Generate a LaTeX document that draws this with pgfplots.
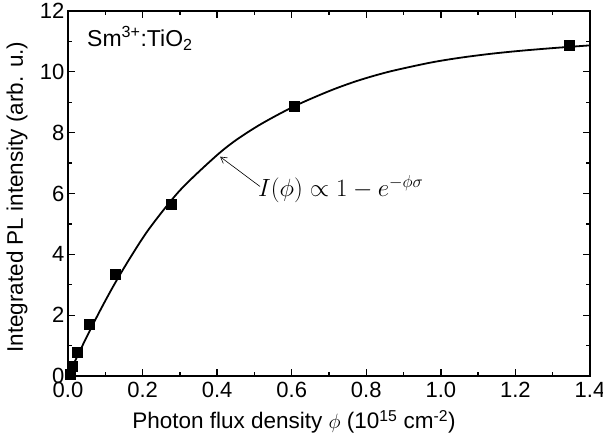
\documentclass[border=0pt]{standalone}
\usepackage{fontspec}
\setmainfont{Liberation Sans}
\usepackage{pgfplots}
\pgfplotsset{compat=1.18}
\usetikzlibrary{arrows.meta}

\begin{document}
\begin{tikzpicture}[font=\fontsize{22}{26}\selectfont]
\begin{axis}[
  at={(0,0)}, anchor=south west,
  scale only axis, width=522pt, height=365pt,
  xmin=0, xmax=1.4, ymin=0, ymax=12,
  xtick={0,0.2,...,1.4}, ytick={0,2,...,12},
  minor x tick num=1, minor y tick num=1,
  tick align=inside, major tick length=7pt, minor tick length=4pt,
  every tick/.style={black, line width=1.3pt},
  axis line style={line width=1.3pt},
  tick label style={font=\fontsize{22}{26}\selectfont},
  label style={font=\fontsize{22.5}{26}\selectfont},
  xticklabel style={yshift=-3pt, /pgf/number format/.cd, fixed, zerofill,
    precision=1, assume math mode=true},
  yticklabel style={/pgf/number format/assume math mode=true},
  xlabel={Photon flux density $\phi$ (10\textsuperscript{15} cm\textsuperscript{-2})},
  ylabel={Integrated PL intensity (arb. u.)},
  xlabel style={at={(axis description cs:0.433,-0.126)}, anchor=center},
  ylabel style={at={(axis description cs:-0.0977,0.49)}, anchor=center},
]
% fitted curve
\addplot[black, line width=1.8pt, smooth] coordinates {
  (0,0) (0.02,0.52) (0.05,1.28) (0.086,2.15) (0.126,3.05) (0.171,3.97)
  (0.22,4.88) (0.30,6.10) (0.394,7.20) (0.45,7.75) (0.52,8.30)
  (0.609,8.88) (0.703,9.38) (0.78,9.72) (0.863,10.01) (0.971,10.30)
  (1.05,10.46) (1.132,10.59) (1.212,10.69) (1.30,10.78) (1.40,10.87)
};
% measured points
\addplot[only marks, mark=square*, mark size=5pt, black] coordinates {
  (0.005,0.07) (0.012,0.33) (0.024,0.77) (0.056,1.69) (0.126,3.36)
  (0.276,5.65) (0.607,8.86) (1.343,10.87)
};
\node[anchor=west, inner sep=0pt, font=\fontsize{23}{26}\selectfont]
  at (axis description cs:0.0364,0.926)
  {Sm\textsuperscript{3+}:TiO\textsubscript{2}};
\draw[-{Straight Barb[length=6pt,width=7pt]}, line width=0.6pt]
  (axis cs:0.515,6.23) -- (axis cs:0.408,7.21);
\node[anchor=base west, inner sep=0pt, font=\fontsize{24.5}{28}\selectfont]
  at (axis cs:0.5095,5.89) {$I(\phi)\propto 1-e^{-\phi\sigma}$};
\end{axis}
\pgfresetboundingbox
\path[use as bounding box] (-68pt,-63pt) rectangle (535pt,376pt);
\end{tikzpicture}
\end{document}
